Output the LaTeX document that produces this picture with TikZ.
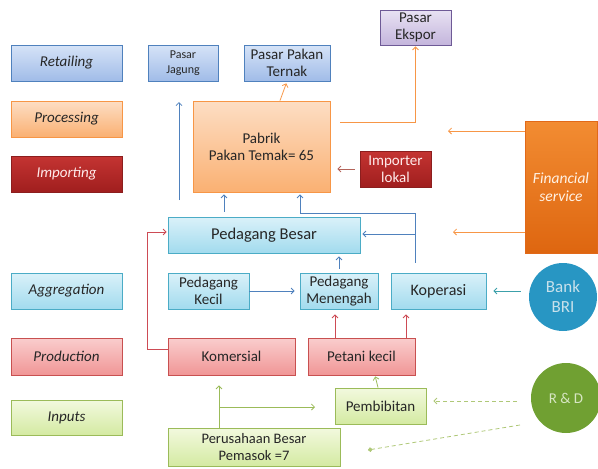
\documentclass[tikz,border=0pt]{standalone}
\usepackage{fontspec}
\setmainfont{Carlito}
\usetikzlibrary{arrows.meta,shadows,calc}
\definecolor{txt}{HTML}{262626}
\begin{document}
\begin{tikzpicture}[x=1pt,y=-1pt,
  base/.style={rectangle, align=center, inner sep=1pt, font=\fontsize{15}{17}\selectfont, text=txt, line width=0.8pt,
    drop shadow={shadow xshift=1pt,shadow yshift=-1.2pt,opacity=0.25}},
  legend/.style={minimum width=111pt, font=\fontsize{15}{17}\selectfont\itshape},
  bluebox/.style={base, draw={rgb,255:red,79;green,129;blue,189}, top color={rgb,255:red,214;green,227;blue,247}, bottom color={rgb,255:red,160;green,188;blue,232}},
  procbox/.style={base, draw={rgb,255:red,247;green,150;blue,70}, top color={rgb,255:red,253;green,222;blue,196}, bottom color={rgb,255:red,250;green,176;blue,114}},
  impbox/.style={base, draw={rgb,255:red,140;green,30;blue,30}, top color={rgb,255:red,196;green,52;blue,50}, bottom color={rgb,255:red,160;green,30;blue,30}, text=white!92!red},
  aggbox/.style={base, draw={rgb,255:red,75;green,172;blue,198}, top color={rgb,255:red,218;green,241;blue,249}, bottom color={rgb,255:red,162;green,219;blue,238}},
  prodbox/.style={base, draw={rgb,255:red,200;green,80;blue,80}, top color={rgb,255:red,250;green,205;blue,205}, bottom color={rgb,255:red,240;green,150;blue,150}},
  inpbox/.style={base, draw={rgb,255:red,155;green,187;blue,89}, top color={rgb,255:red,242;green,249;blue,222}, bottom color={rgb,255:red,212;green,234;blue,162}},
  purpbox/.style={base, draw={rgb,255:red,110;green,90;blue,150}, top color={rgb,255:red,232;green,226;blue,243}, bottom color={rgb,255:red,196;green,181;blue,220}},
  finbox/.style={base, draw={rgb,255:red,225;green,105;blue,25}, top color={rgb,255:red,242;green,140;blue,50}, bottom color={rgb,255:red,222;green,102;blue,16}, text=white!90!orange},
  circ/.style={circle, inner sep=0pt, align=center, minimum size=#1},
  conn/.style={line width=0.8pt, -{Straight Barb[length=3pt,width=6pt]}},
  bline/.style={conn, draw={rgb,255:red,79;green,129;blue,189}},
  rline/.style={conn, draw={rgb,255:red,205;green,75;blue,85}},
  oline/.style={conn, draw={rgb,255:red,247;green,150;blue,70}},
  brline/.style={conn, draw={rgb,255:red,180;green,100;blue,90}},
  tline/.style={conn, draw={rgb,255:red,60;green,160;blue,170}},
  gline/.style={conn, draw={rgb,255:red,155;green,187;blue,89}},
  gdash/.style={conn, dashed, dash pattern=on 4pt off 3pt, draw={rgb,255:red,175;green,200;blue,120}},
]
\useasboundingbox (0,0) rectangle (598,469);

% left legend column
\node[bluebox, legend, minimum height=36pt] (retail) at (66.5,63) {Retailing};
\node[procbox, legend, minimum height=36pt] (proc) at (66.5,119) {Processing};
\node[impbox, legend, minimum height=36pt] (imp) at (66.5,174) {Importing};
\node[aggbox, legend, minimum height=36pt] (agg) at (66.5,291) {Aggregation};
\node[prodbox, legend, minimum height=37pt] (prod) at (66.5,356.5) {Production};
\node[inpbox, legend, minimum height=35pt] (inp) at (66.5,417.5) {Inputs};

% chain nodes
\node[bluebox, minimum width=70pt, minimum height=36pt, font=\fontsize{12}{15}\selectfont] (jagung) at (183,63) {Pasar\\Jagung};
\node[bluebox, minimum width=86pt, minimum height=36pt] (ternak) at (287,63) {Pasar Pakan\\Ternak};
\node[purpbox, minimum width=71pt, minimum height=35pt] (ekspor) at (415.5,27.5) {Pasar\\Ekspor};
\node[procbox, minimum width=137pt, minimum height=91pt] (pabrik) at (261.5,146.5) {Pabrik\\Pakan Temak= 65};
\node[impbox, minimum width=71pt, minimum height=36pt] (importer) at (395.5,169) {Importer\\lokal};
\node[finbox, minimum width=72pt, minimum height=132pt, font=\fontsize{15.5}{18}\selectfont\itshape] (fin) at (561,187) {Financial\\service};
\node[aggbox, minimum width=192pt, minimum height=36pt, font=\fontsize{16.5}{18}\selectfont] (besar) at (264,235) {Pedagang Besar};
\node[aggbox, minimum width=81pt, minimum height=36pt] (kecil) at (208.5,291) {Pedagang\\Kecil};
\node[aggbox, minimum width=78pt, minimum height=36pt] (menengah) at (339,291) {Pedagang\\Menengah};
\node[aggbox, minimum width=95pt, minimum height=36pt, font=\fontsize{16}{18}\selectfont] (koperasi) at (438.5,291) {Koperasi};
\node[circ=68pt, fill={rgb,255:red,40;green,150;blue,195}, text={rgb,255:red,200;green,225;blue,235}, font=\fontsize{17}{20}\selectfont] (bank) at (563,297) {Bank\\BRI};
\node[prodbox, minimum width=127pt, minimum height=37pt] (komersial) at (231.5,356.5) {Komersial};
\node[prodbox, minimum width=107pt, minimum height=37pt] (petani) at (361.5,356.5) {Petani kecil};
\node[inpbox, minimum width=91pt, minimum height=36pt] (pembibitan) at (380.5,406) {Pembibitan};
\node[circ=70pt, fill={rgb,255:red,112;green,160;blue,50}, text={rgb,255:red,215;green,230;blue,195}, font=\fontsize{15}{17}\selectfont] (rd) at (566,398) {R \& D};
\node[inpbox, minimum width=172pt, minimum height=38pt, font=\fontsize{14.5}{17}\selectfont] (perusahaan) at (254,447) {Perusahaan Besar\\Pemasok =7};

% helper coordinates
\coordinate (j1) at (179,200);
\coordinate (j2) at (179,102);
\coordinate (x224) at (224,0);
\coordinate (x300) at (300,0);
\coordinate (k1) at (415,213);
\coordinate (k2) at (415,234);
\coordinate (x335) at (335,0);
\coordinate (x406) at (406,0);
\coordinate (r1) at (147,349);
\coordinate (r2) at (147,232);
\coordinate (e1) at (340,122);
\coordinate (f1) at (448,131);
\coordinate (f2) at (453,232);
\coordinate (d1) at (517,401);
\coordinate (d2) at (520,425);
\coordinate (d3) at (368,450);
\coordinate (x219) at (219,0);
\coordinate (g1) at (219,407);
\coordinate (g2) at (315,407);

% blue connectors
\draw[bline] (j1) -- (j2);
\draw[bline, shorten <=5pt, shorten >=2pt] (besar.north -| x224) -- (pabrik.south -| x224);
\draw[bline, shorten <=10pt, shorten >=2pt] (koperasi.north -| k1) -- (k1) -| (pabrik.south -| x300);
\draw[bline, shorten >=2pt] (k2) -- (besar.east |- k2);
\draw[bline, shorten <=4pt, shorten >=3pt] (menengah.north) -- (besar.south -| menengah.north);
\draw[bline, shorten >=5pt] (kecil.east) -- (menengah.west);

% red connectors
\draw[rline, shorten >=5pt] (petani.north -| x335) -- (menengah.south -| x335);
\draw[rline, shorten >=5pt] (petani.north -| x406) -- (koperasi.south -| x406);
\draw[rline, shorten >=1pt] (komersial.west |- r1) -- (r1) -- (r2) -- (besar.west |- r2);

% orange connectors
\draw[oline, shorten >=2pt] ($(pabrik.north)+(18.5,0)$) -- (ternak.south);
\draw[oline, shorten >=1pt] (e1) -| (ekspor.south);
\draw[oline] (fin.west |- f1) -- (f1);
\draw[oline] (fin.west |- f2) -- (f2);
\draw[brline, shorten <=5pt, shorten >=7pt] (importer.west) -- (pabrik.east |- importer.west);

% bank and R&D
\draw[tline, shorten <=8pt, shorten >=7pt] (bank.west |- koperasi.east) -- (koperasi.east);
\draw[gdash, shorten >=7pt] (d1) -- (pembibitan.east |- d1);
\draw[gdash, -{Circle[length=4.5pt]}] (d2) -- (d3);

% green connectors
\draw[gline, shorten >=10pt] (perusahaan.north -| x219) -- (komersial.south -| x219);
\draw[gline] (g1) -- (g2);
\draw[gline, shorten >=1pt] ($(pembibitan.north)+(-2.5,0)$) -- ($(petani.south)+(13.5,0)$);
\end{tikzpicture}
\end{document}
